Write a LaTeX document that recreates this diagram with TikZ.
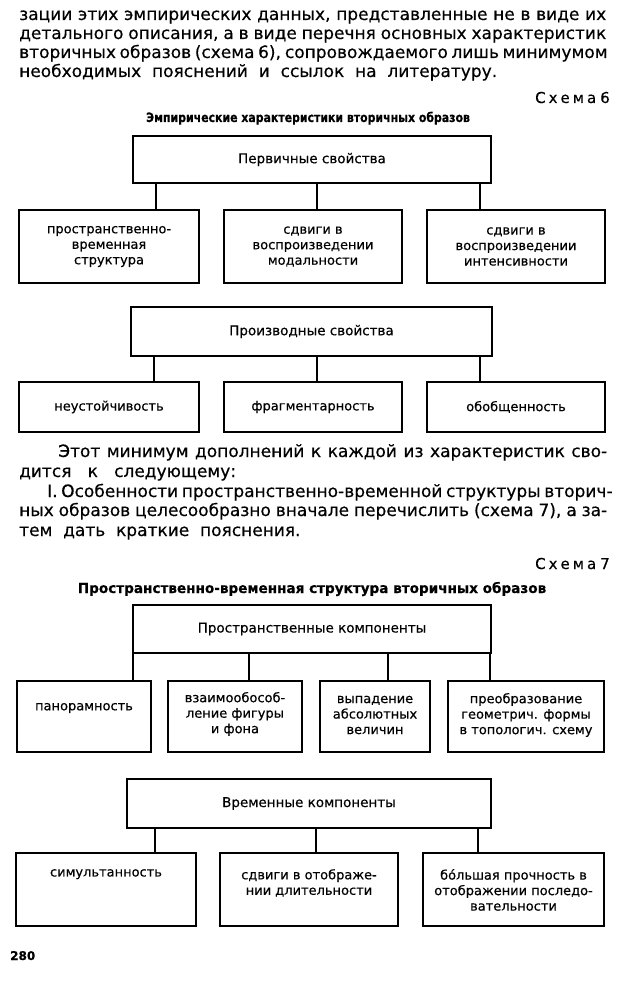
\documentclass[tikz,border=0pt]{standalone}
\usepackage{fontspec}
\setmainfont{DejaVu Sans}[FakeBold=0.4]
\begin{document}
\begin{tikzpicture}[x=1pt,y=-1pt,
  box/.style={draw, line width=1.6pt, inner sep=0pt, align=center},
  body/.style={anchor=base west, inner sep=0pt, font=\fontsize{17}{19}\selectfont},
  lbl/.style={font=\fontsize{13.5}{16}\selectfont},
  sm/.style={font=\fontsize{13}{15.5}\selectfont},
  smtxt/.style={align=center, inner sep=0pt, font=\fontsize{13}{15.5}\selectfont},
  ttl/.style={anchor=base, inner sep=0pt},
  link/.style={line width=1.6pt}]
\useasboundingbox (0,0) rectangle (620,981);
\fill[white] (0,0) rectangle (620,981);

% ---- paragraph 1
\node[body] (l1) at (19,20) {\makebox[587pt][s]{зации этих эмпирических данных, представленные не в виде их}};
\node[body] (l2) at (19,39) {\makebox[587pt][s]{детального описания, а в виде перечня основных характеристик}};
\node[body] (l3) at (19,58) {\makebox[587pt][s]{вторичных образов (схема 6), сопровождаемого лишь минимумом}};
\node[body] (l4) at (19,77) {необходимых\ \ пояснений\ \ и\ \ ссылок\ \ на\ \ литературу.};

% ---- scheme 6
\node[ttl, anchor=base east, font=\fontsize{15}{17}\selectfont] (s6) at (610,103) {С\kern3pt х\kern3pt е\kern3pt м\kern3pt а\kern4pt 6};
\node[ttl, font=\bfseries\fontsize{13}{15}\selectfont] (t6) at (308,122) {\scalebox{0.84}[1]{Эмпирические характеристики вторичных образов}};

\node[box, lbl, minimum width=358pt, minimum height=47pt] (p6) at (312,159.5) {Первичные свойства};
\node[box, sm, minimum width=180pt, minimum height=73pt] (a1) at (109,246.5) {пространственно-\\временная\\структура};
\node[box, sm, minimum width=178pt, minimum height=73pt] (a2) at (313,246.5) {сдвиги в\\воспроизведении\\модальности};
\node[box, sm, minimum width=178pt, minimum height=73pt] (a3) at (516,246.5) {сдвиги в\\воспроизведении\\интенсивности};
\coordinate (c61) at (156,0);
\coordinate (c62) at (317,0);
\coordinate (c63) at (480,0);
\draw[link] (p6.south -| c61) -- (a1.north -| c61);
\draw[link] (p6.south -| c62) -- (a2.north -| c62);
\draw[link] (p6.south -| c63) -- (a3.north -| c63);

\node[box, lbl, minimum width=361pt, minimum height=49pt] (d6) at (311.5,331.5) {Производные свойства};
\node[box, sm, minimum width=180pt, minimum height=50pt] (b1) at (109,407) {неустойчивость};
\node[box, sm, minimum width=178pt, minimum height=50pt] (b2) at (313,407) {фрагментарность};
\node[box, sm, minimum width=178pt, minimum height=50pt] (b3) at (516,407) {обобщенность};
\coordinate (c64) at (154,0);
\coordinate (c65) at (317,0);
\coordinate (c66) at (480,0);
\draw[link] (d6.south -| c64) -- (b1.north -| c64);
\draw[link] (d6.south -| c65) -- (b2.north -| c65);
\draw[link] (d6.south -| c66) -- (b3.north -| c66);

% ---- paragraph 2
\node[body] (m1) at (58,457) {\makebox[549pt][s]{Этот минимум дополнений к каждой из характеристик сво-}};
\node[body] (m2) at (19,477) {дится\ \ \ к\ \ \ следующему:};
\node[body] (m3) at (47,497) {\makebox[560pt][s]{I. Особенности пространственно-временной структуры вторич-}};
\node[body] (m4) at (19,516) {\makebox[588pt][s]{ных образов целесообразно вначале перечислить (схема 7), а за-}};
\node[body] (m5) at (19,536) {тем\ \ дать\ \ краткие\ \ пояснения.};

% ---- scheme 7
\node[ttl, anchor=base east, font=\fontsize{15}{17}\selectfont] (s7) at (610,569) {С\kern3pt х\kern3pt е\kern3pt м\kern3pt а\kern4pt 7};
\node[ttl, font=\bfseries\fontsize{14}{16}\selectfont] (t7) at (312,593) {\scalebox{0.97}[1]{Пространственно-временная структура вторичных образов}};

\node[box, lbl, minimum width=358pt, minimum height=48pt] (p7) at (312,629) {Пространственные компоненты};
\node[box, minimum width=134pt, minimum height=71pt] (e1) at (84,716.5) {};
\node[box, minimum width=134pt, minimum height=71pt] (e2) at (235,716.5) {};
\node[box, minimum width=110pt, minimum height=71pt] (e3) at (375,716.5) {};
\node[box, minimum width=156pt, minimum height=71pt] (e4) at (526,716.5) {};
\node[smtxt] (e1t) at (84,708) {панорамность};
\node[smtxt] (e2t) at (235,714) {взаимообособ-\\ление фигуры\\и фона};
\node[smtxt] (e3t) at (375,715) {выпадение\\абсолютных\\величин};
\node[smtxt] (e4t) at (526,715) {преобразование\\геометрич. формы\\в топологич. схему};
\coordinate (c71) at (133,0);
\coordinate (c72) at (249,0);
\coordinate (c73) at (388,0);
\coordinate (c74) at (490,0);
\draw[link] (p7.south -| c71) -- (e1.north -| c71);
\draw[link] (p7.south -| c72) -- (e2.north -| c72);
\draw[link] (p7.south -| c73) -- (e3.north -| c73);
\draw[link] (p7.south -| c74) -- (e4.north -| c74);

\node[box, lbl, minimum width=364pt, minimum height=49pt] (v7) at (309,803.5) {Временные компоненты};
\node[box, minimum width=180pt, minimum height=73pt] (f1) at (106,889.5) {};
\node[box, minimum width=178pt, minimum height=73pt] (f2) at (309,889.5) {};
\node[box, minimum width=181pt, minimum height=73pt] (f3) at (513.5,889.5) {};
\node[smtxt, anchor=north] (f1t) at (106,869) {симультанность};
\node[smtxt, anchor=north] (f2t) at (309,869) {сдвиги в отображе-\\нии длительности};
\node[smtxt, anchor=north] (f3t) at (513.5,869) {бо́льшая прочность в\\отображении последо-\\вательности};
\coordinate (c75) at (155,0);
\coordinate (c76) at (316,0);
\coordinate (c77) at (478,0);
\draw[link] (v7.south -| c75) -- (f1.north -| c75);
\draw[link] (v7.south -| c76) -- (f2.north -| c76);
\draw[link] (v7.south -| c77) -- (f3.north -| c77);

\node[anchor=base west, inner sep=0pt, font=\bfseries\fontsize{12}{14}\selectfont] (pg) at (10,960) {280};
\end{tikzpicture}
\end{document}
